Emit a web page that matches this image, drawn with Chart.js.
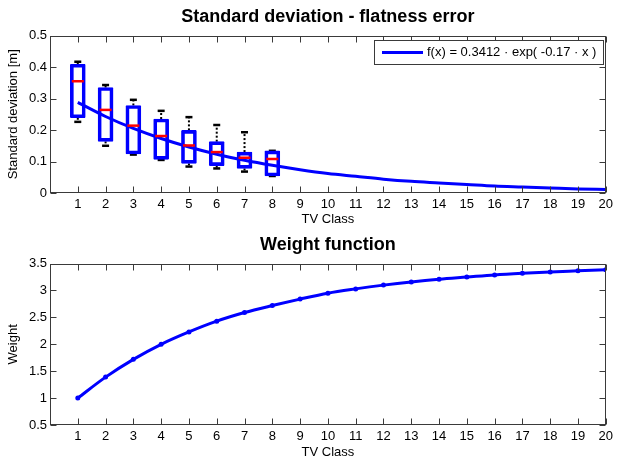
<!DOCTYPE html>
<html>
<head>
<meta charset="utf-8">
<title>Standard deviation - flatness error</title>
<script src="https://cdn.jsdelivr.net/npm/chart.js@4.4.1/dist/chart.umd.min.js"></script>
<style>
  html, body { margin: 0; padding: 0; background: #fff; }
  body { width: 617px; height: 462px; position: relative; overflow: hidden; }
  .pane { position: absolute; left: 0; width: 617px; }
  #topPane { top: 0; height: 230px; }
  #bottomPane { top: 230px; height: 232px; }
</style>
</head>
<body>
<div class="pane" id="topPane"><canvas id="sdChart"></canvas></div>
<div class="pane" id="bottomPane"><canvas id="weightChart"></canvas></div>
<script>
// data
const tvClasses = [1, 2, 3, 4, 5, 6, 7, 8, 9, 10, 11, 12, 13, 14, 15, 16, 17, 18, 19, 20];
const boxClasses = [1, 2, 3, 4, 5, 6, 7, 8];
const whiskerHigh = [0.417, 0.343, 0.296, 0.261, 0.241, 0.216, 0.193, 0.134];
const boxQ3 = [0.409, 0.335, 0.278, 0.235, 0.199, 0.163, 0.130, 0.134];
const boxMedian = [0.355, 0.264, 0.214, 0.181, 0.151, 0.130, 0.112, 0.108];
const boxQ1 = [0.239, 0.164, 0.124, 0.107, 0.094, 0.087, 0.078, 0.054];
const whiskerLow = [0.226, 0.150, 0.122, 0.105, 0.084, 0.078, 0.068, 0.054];
const fitValues = [0.288, 0.243, 0.205, 0.173, 0.146, 0.123, 0.104, 0.088, 0.074, 0.062,
                   0.053, 0.044, 0.037, 0.032, 0.027, 0.022, 0.019, 0.016, 0.013, 0.011];
const weightValues = [1.00, 1.39, 1.72, 2.00, 2.23, 2.43, 2.59, 2.72, 2.84, 2.95,
                      3.03, 3.10, 3.16, 3.21, 3.25, 3.29, 3.32, 3.345, 3.365, 3.385];
const sdTicks = [0, 0.1, 0.2, 0.3, 0.4, 0.5];
const weightTicks = [0.5, 1, 1.5, 2, 2.5, 3, 3.5];
const fitLabel = "f(x) = 0.3412 \u00b7 exp( -0.17 \u00b7 x )";

const BLUE = "#0000ff";
const RED = "#ff0000";
const FRAME = "#3a3a3a";

Chart.defaults.font.family = '"Liberation Sans", Arial, sans-serif';
Chart.defaults.font.size = 13;
Chart.defaults.color = "#000";

function classAxis(height, titleBottom) {
  return {
    type: "linear",
    min: 0,
    max: 20,
    offset: false,
    afterBuildTicks: (s) => { s.ticks = tvClasses.map((v) => ({ value: v })); },
    afterFit: (s) => { s.height = height; },
    grid: { display: false, drawTicks: false },
    border: { display: false },
    ticks: { color: "#000", padding: 4, maxRotation: 0, autoSkip: false },
    title: { display: true, text: "TV Class", color: "#000", padding: { top: 0, bottom: titleBottom } }
  };
}

function valueAxis(min, max, tickList, label) {
  return {
    type: "linear",
    min,
    max,
    afterBuildTicks: (s) => { s.ticks = tickList.map((v) => ({ value: v })); },
    afterFit: (s) => { s.width = 50; },
    grid: { display: false, drawTicks: false },
    border: { display: false },
    ticks: { color: "#000", padding: 3, callback: (v) => String(v) },
    title: { display: true, text: label, color: "#000", padding: { top: 6, bottom: 0 } }
  };
}

function plotTitle(text, top, bottom) {
  return {
    display: true,
    text,
    color: "#000",
    fullSize: false,
    font: { size: 18, weight: "bold" },
    padding: { top, bottom }
  };
}

// closed box round the axes, MATLAB style ticks pointing inwards
const framePlugin = {
  id: "frame",
  afterDatasetsDraw(chart) {
    const { ctx, chartArea: a, scales: { x, y } } = chart;
    const L = Math.round(a.left) + 0.5, R = Math.round(a.right) - 0.5;
    const T = Math.round(a.top) + 0.5, B = Math.round(a.bottom) - 0.5;
    ctx.save();
    ctx.strokeStyle = FRAME;
    ctx.lineWidth = 1;
    ctx.beginPath();
    x.ticks.forEach((t) => {
      const px = Math.round(x.getPixelForValue(t.value)) + 0.5;
      ctx.moveTo(px, B); ctx.lineTo(px, B - 6);
      ctx.moveTo(px, T); ctx.lineTo(px, T + 6);
    });
    y.ticks.forEach((t) => {
      const py = Math.round(y.getPixelForValue(t.value)) + 0.5;
      ctx.moveTo(L, py); ctx.lineTo(L + 6, py);
      ctx.moveTo(R, py); ctx.lineTo(R - 6, py);
    });
    ctx.stroke();
    ctx.strokeRect(L, T, R - L, B - T);
    ctx.restore();
  }
};

// whiskers under the boxes, medians on top
const boxPlotPlugin = {
  id: "boxWhiskers",
  beforeDatasetsDraw(chart) {
    const { ctx, scales: { x, y } } = chart;
    ctx.save();
    ctx.strokeStyle = "#000";
    boxClasses.forEach((c, i) => {
      const px = x.getPixelForValue(c);
      [[boxQ3[i], whiskerHigh[i]], [boxQ1[i], whiskerLow[i]]].forEach(([from, to]) => {
        const y0 = y.getPixelForValue(from);
        const y1 = y.getPixelForValue(to);
        ctx.lineWidth = 2;
        ctx.setLineDash([2, 2]);
        ctx.beginPath(); ctx.moveTo(px, y0); ctx.lineTo(px, y1); ctx.stroke();
        ctx.setLineDash([]);
        ctx.lineWidth = 2.5;
        ctx.beginPath(); ctx.moveTo(px - 3.5, y1); ctx.lineTo(px + 3.5, y1); ctx.stroke();
      });
    });
    ctx.restore();
  },
  afterDatasetsDraw(chart) {
    const { ctx, scales: { x, y } } = chart;
    ctx.save();
    ctx.strokeStyle = RED;
    ctx.lineWidth = 2.5;
    boxClasses.forEach((c, i) => {
      const px = x.getPixelForValue(c);
      const py = y.getPixelForValue(boxMedian[i]);
      ctx.beginPath(); ctx.moveTo(px - 6, py); ctx.lineTo(px + 6, py); ctx.stroke();
    });
    ctx.restore();
  }
};

const fitLegendPlugin = {
  id: "fitLegend",
  afterDatasetsDraw(chart) {
    const { ctx } = chart;
    const box = { left: 374.5, top: 40.5, right: 603.5, bottom: 64.5 };
    const mid = (box.top + box.bottom) / 2;
    ctx.save();
    ctx.fillStyle = "#fff";
    ctx.fillRect(box.left, box.top, box.right - box.left, box.bottom - box.top);
    ctx.strokeStyle = FRAME;
    ctx.lineWidth = 1;
    ctx.strokeRect(box.left, box.top, box.right - box.left, box.bottom - box.top);
    ctx.strokeStyle = BLUE;
    ctx.lineWidth = 3;
    ctx.beginPath(); ctx.moveTo(382, mid); ctx.lineTo(423, mid); ctx.stroke();
    ctx.fillStyle = "#000";
    ctx.font = '13px "Liberation Sans", Arial, sans-serif';
    ctx.textBaseline = "middle";
    ctx.fillText(fitLabel, 427, mid);
    ctx.restore();
  }
};

new Chart(document.getElementById("sdChart"), {
  type: "line",
  data: {
    datasets: [
      {
        type: "line",
        label: fitLabel,
        data: tvClasses.map((c, i) => ({ x: c, y: fitValues[i] })),
        borderColor: BLUE,
        borderWidth: 3,
        pointRadius: 0,
        cubicInterpolationMode: "monotone",
        fill: false
      },
      {
        type: "bar",
        label: "boxes",
        data: boxClasses.map((c, i) => ({ x: c, y: [boxQ1[i], boxQ3[i]] })),
        backgroundColor: "rgba(0,0,0,0)",
        borderColor: BLUE,
        borderWidth: 3,
        borderSkipped: false,
        borderRadius: 1,
        barThickness: 15
      }
    ]
  },
  options: {
    responsive: true,
    maintainAspectRatio: false,
    animation: false,
    events: [],
    layout: { padding: { left: 0, right: 7, top: 0, bottom: 0 } },
    plugins: {
      legend: { display: false },
      tooltip: { enabled: false },
      title: plotTitle("Standard deviation - flatness error", 6, 8)
    },
    scales: {
      x: classAxis(37, 3),
      y: valueAxis(0, 0.5, sdTicks, "Standard deviation [m]")
    }
  },
  plugins: [boxPlotPlugin, framePlugin, fitLegendPlugin]
});

new Chart(document.getElementById("weightChart"), {
  type: "line",
  data: {
    datasets: [{
      label: "Weight",
      data: tvClasses.map((c, i) => ({ x: c, y: weightValues[i] })),
      borderColor: BLUE,
      backgroundColor: BLUE,
      borderWidth: 3,
      pointRadius: 2.5,
      pointBorderWidth: 0,
      pointBackgroundColor: BLUE,
      cubicInterpolationMode: "monotone",
      fill: false
    }]
  },
  options: {
    responsive: true,
    maintainAspectRatio: false,
    animation: false,
    events: [],
    layout: { padding: { left: 0, right: 7, top: 0, bottom: 0 } },
    plugins: {
      legend: { display: false },
      tooltip: { enabled: false },
      title: plotTitle("Weight function", 4, 8)
    },
    scales: {
      x: classAxis(37, 2),
      y: valueAxis(0.5, 3.5, weightTicks, "Weight")
    }
  },
  plugins: [framePlugin]
});
</script>
</body>
</html>
